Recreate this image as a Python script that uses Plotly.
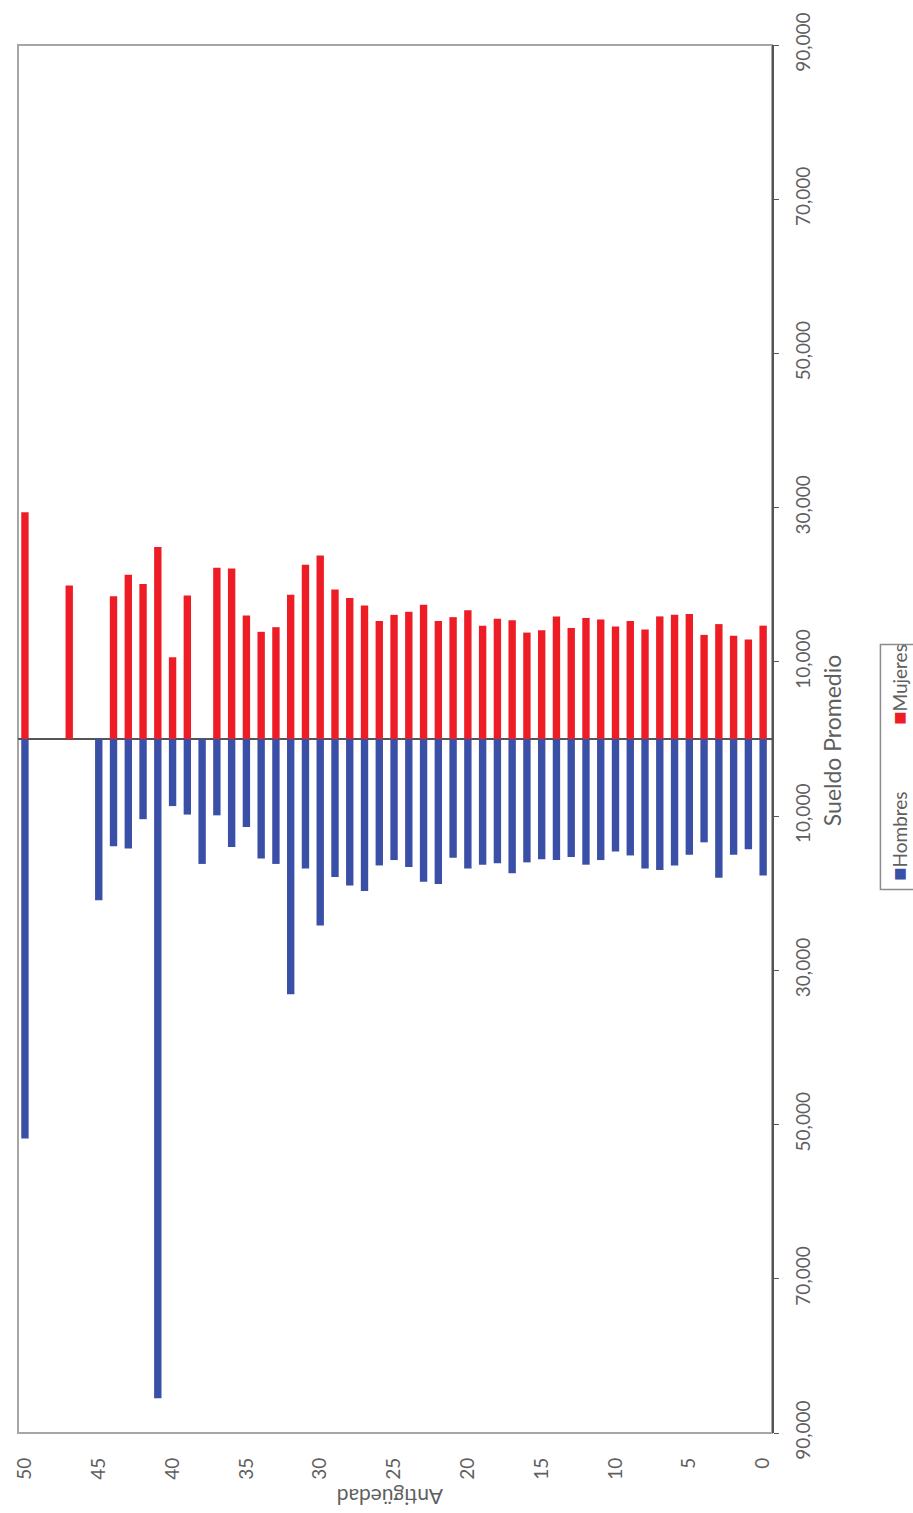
import plotly.graph_objects as go

# Antigüedad (years of seniority) 0..50
antiguedad = list(range(0, 51))

# Sueldo promedio por antigüedad (pesos); None = no data
mujeres = [14700, 12900, 13400, 14900, 13500, 16200, 16100, 15900, 14200, 15300,
           14600, 15500, 15700, 14400, 15900, 14100, 13800, 15400, 15600, 14700,
           16700, 15800, 15300, 17400, 16500, 16100, 15300, 17300, 18300, 19400,
           23800, 22600, 18700, 14500, 13900, 16000, 22100, 22200, None, 18600,
           10600, 24900, 20100, 21300, 18500, None, None, 19900, None, None,
           29400]
hombres = [17700, 14300, 15000, 18000, 13400, 15000, 16400, 17000, 16800, 15100,
           14600, 15700, 16300, 15300, 15700, 15600, 16000, 17400, 16100, 16300,
           16800, 15400, 18800, 18500, 16600, 15700, 16400, 19700, 19000, 17900,
           24200, 16800, 33100, 16200, 15500, 11400, 14000, 9900, 16200, 9800,
           8700, 85500, 10400, 14200, 13900, 20900, None, None, None, None,
           51800]

sal_ticks = [-90000, -70000, -50000, -30000, -10000, 10000, 30000, 50000, 70000, 90000]
sal_labels = ["90,000", "70,000", "50,000", "30,000", "10,000",
              "10,000", "30,000", "50,000", "70,000", "90,000"]
ant_ticks = [0, 5, 10, 15, 20, 25, 30, 35, 40, 45, 50]

BLUE = "#3A4FA6"
RED = "#EE1C25"
TXT = "#5F5F5F"
FONT = "Lato"

fig = go.Figure()
fig.add_trace(go.Bar(
    x=antiguedad, y=[(-v if v is not None else None) for v in hombres],
    name="Hombres", marker=dict(color=BLUE, line=dict(width=0)), width=0.5,
    customdata=hombres, hovertemplate="Hombres<br>Antigüedad %{x}<br>%{customdata:,}<extra></extra>"))
fig.add_trace(go.Bar(
    x=antiguedad, y=mujeres,
    name="Mujeres", marker=dict(color=RED, line=dict(width=0)), width=0.5,
    hovertemplate="Mujeres<br>Antigüedad %{x}<br>%{y:,}<extra></extra>"))

W, H = 913, 1513
L, R, T, B = 14, 141, 44, 80
pw, ph = W - L - R, H - T - B


def px(xpix):
    return (xpix - L) / pw


def py(ypix):
    return (H - B - ypix) / ph


fig.update_layout(
    width=W, height=H,
    margin=dict(l=L, r=R, t=T, b=B),
    barmode="relative",
    showlegend=False,
    plot_bgcolor="white", paper_bgcolor="white",
    font=dict(family=FONT, color=TXT, size=19),
    xaxis=dict(
        range=[50.47, -0.6], tickmode="array", tickvals=ant_ticks,
        ticktext=[str(t) for t in ant_ticks], tickangle=-90,
        showgrid=False, zeroline=False, showline=False, ticks="",
        ticklabelstandoff=20, tickfont=dict(size=19, color=TXT, family=FONT),
    ),
    yaxis=dict(
        range=[-90000, 90000], side="right", tickmode="array",
        tickvals=sal_ticks, ticktext=sal_labels, tickangle=-90,
        showgrid=False, zeroline=True, zerolinecolor="#555555", zerolinewidth=1.5,
        showline=True, linecolor="#555555", linewidth=2,
        ticks="outside", ticklen=5, tickcolor="#555555", tickwidth=1,
        ticklabelstandoff=8, tickfont=dict(size=19, color=TXT, family=FONT),
    ),
    shapes=[
        dict(type="rect", xref="paper", yref="paper", x0=0, x1=1, y0=0, y1=1,
             line=dict(color="#A6A6A6", width=2), layer="below"),
        dict(type="rect", xref="paper", yref="paper", x0=px(881), x1=px(935),
             y0=py(889), y1=py(644), line=dict(color="#8C8C8C", width=1.5),
             fillcolor="white"),
    ],
    annotations=[
        dict(text="Sueldo Promedio", xref="paper", yref="paper", x=px(833), y=py(740),
             showarrow=False, textangle=-90, font=dict(size=23, color=TXT, family=FONT),
             xanchor="center", yanchor="middle"),
        dict(text="Antigüedad", xref="paper", yref="paper", x=px(388), y=py(1497),
             showarrow=False, textangle=180, font=dict(size=21, color=TXT, family=FONT),
             xanchor="center", yanchor="middle"),
        dict(text=f'<span style="color:{BLUE};font-size:22px">■</span>Hombres',
             xref="paper", yref="paper",
             x=px(899), y=py(836), showarrow=False, textangle=-90,
             font=dict(size=19, color=TXT, family=FONT), xanchor="center", yanchor="middle"),
        dict(text=f'<span style="color:{RED};font-size:22px">■</span>Mujeres',
             xref="paper", yref="paper",
             x=px(899), y=py(684), showarrow=False, textangle=-90,
             font=dict(size=19, color=TXT, family=FONT), xanchor="center", yanchor="middle"),
    ],
)

fig.write_html(
    "out.html",
    config={"displayModeBar": False},
    post_script="document.body.style.margin='0';document.body.style.overflow='hidden';"
                "document.documentElement.style.overflow='hidden';",
)
